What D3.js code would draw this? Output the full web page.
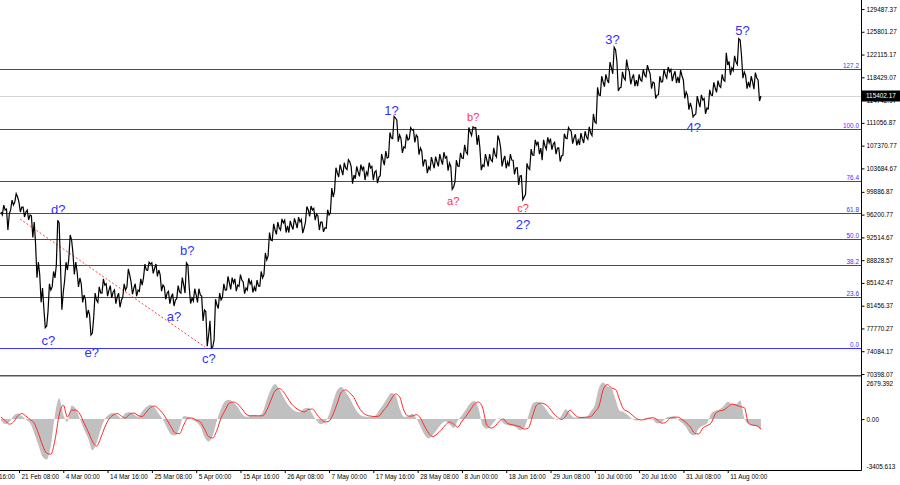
<!DOCTYPE html>
<html><head><meta charset="utf-8">
<script src="https://cdn.jsdelivr.net/npm/d3@7"></script>
<style>html,body{margin:0;padding:0;background:#fff;} svg{display:block;font-family:"Liberation Sans",Arial,sans-serif;}</style>
</head><body>
<svg id="c" width="900" height="485"></svg>
<script>
// ---------- DATA ----------
const startDate = "2025-02-17T00:00:00Z"; // first daily sample
const closes = [
96620,96950,96300,97750,99050,97430,96620,96140,95000,88530,
84320,78170,83990,85940,94840,83670,87230,92090,88530,85940,
83180,80760,77030,82370,83510,84800,83990,83670,82860,82370,
83990,86420,84320,83990,84800,87230,88200,87560,87230,84800,
83510,82860,82370,83670,84800,88040,82700,83180,83180,80760,
76710,74770,81560,82370,83990,85130,85130,84800,85610,84320,
84960,84480,84640,85940,88850,92090,93710,94030,94840,94360,
94360,94840,95000,94030,96950,96950,96300,95000,94030,96140,
99050,102940,103420,103750,104720,102610,103100,103420,103100,103750,
103100,102290,105040,105360,108600,111840,109090,107150,108280,109900,
109090,106980,105040,103910,104550,104720,105040,105360,104550,100670,
104070,105360,106340,109570,110220,109090,104230,105040,105040,105850,
108280,105040,104720,105040,103750,102450,99050,103750,105850,107470,
106980,107310,107790,107630,106980,105690,108600,109900,108600,108280,
108440,108760,109410,111190,115560,117670,117990,119940,122850,116700,
118320,119940,118320,117990,117990,118800,119610,117670,115560,117670,
118800,119290,118800,118480,118640,116050,114270,112330,114430,114750,
113460,115560,116700,117020,117990,120420,119940,120910,124470,119290,
117670,117670,118320,115402.17];
const highs = [
97420,97750,97100,98550,99600,98230,97420,96940,96000,91500,
86500,81000,85000,87000,95300,88000,88500,92900,90000,87000,
85000,82500,80000,83500,84500,85800,85000,84700,84000,83500,
85000,87400,85300,85000,85800,88200,88500,88400,88200,86500,
84500,83800,83400,84700,86000,88400,84500,84200,84200,83000,
80500,79000,82500,83500,85000,86200,86000,85800,86500,85300,
85900,85400,85600,87000,90000,93300,94700,95000,95500,95300,
95200,95600,95800,95400,97500,97600,97200,96000,95000,97000,
100500,103800,104300,104600,105100,104000,104000,104300,104000,104600,
104000,103300,106000,106500,109500,112100,111500,108500,109200,110300,
110000,108800,106500,105000,105500,105600,106000,106300,105600,104000,
105000,106200,107500,110300,110400,110300,107000,106000,106000,107000,
109000,107000,105700,106000,105000,103800,102500,104500,106800,108300,
108000,108300,108700,108500,107900,107000,109300,110300,109700,109200,
109400,109700,110400,112500,116800,118600,118900,120900,123300,121000,
119300,121300,119300,118900,118900,119700,120400,119000,117500,118600,
119700,120100,119700,119400,119600,118000,115500,113500,115400,115600,
115000,116400,117600,117900,118900,122400,121000,121900,124700,122000,
118700,118600,119200,118000];
const lows = [
95820,96150,93700,96950,98250,96630,95820,95340,92500,86000,
82000,77900,80500,84500,88000,80800,85500,89000,86500,84500,
82000,79500,76700,79500,82000,83500,83000,82700,81800,81200,
82800,84500,83300,83000,83800,86000,87200,86700,86200,83800,
82500,81800,81400,82600,83500,83500,81800,82200,82000,79000,
74900,74600,76000,81000,82800,84000,84100,83800,84600,83400,
84000,83600,83800,84600,86500,89500,92000,93000,93700,93300,
93300,93800,94000,93200,95000,95900,95300,93700,93400,94000,
96500,100000,102300,102600,103500,101200,102000,102400,101800,102600,
101800,101300,102500,104200,105500,108500,108000,106200,107000,108500,
107900,105900,104000,102900,103500,103700,104000,104300,103300,100300,
101500,104000,105300,106000,109000,107500,103400,104000,104000,104800,
105500,104000,103700,104000,102700,101000,98600,99500,103500,105800,
106000,105000,106800,106700,106000,104800,105800,108500,107700,107400,
107500,107800,108400,109000,111000,115500,116900,117500,119000,116200,
116800,118000,117300,117000,117000,117800,118500,116600,115000,115600,
117700,118300,117800,117500,117500,115000,113200,112000,112500,113600,
112500,113300,115500,116000,116800,117800,118800,119500,120500,118300,
116600,116800,116500,114600];
const macdSignal = [
130,-100,-340,-200,200,370,200,-30,-270,-940,
-1740,-2280,-2350,-1400,270,940,130,600,600,340,
-270,-840,-1480,-1810,-1270,-540,0,270,370,200,
70,340,400,240,170,470,770,870,670,370,
-70,-540,-940,-970,-400,70,70,-70,-200,-670,
-1170,-1270,-740,70,600,1070,1140,1000,700,340,
220,220,220,220,600,1270,1880,2040,1830,1410,
1000,740,570,470,640,670,340,0,-200,-140,
340,1070,1810,1950,1740,1440,870,470,270,200,
170,200,540,870,1340,1680,1480,600,200,200,
300,70,-470,-940,-1170,-1000,-740,-400,-200,-340,
-540,-140,200,600,1000,1140,740,-400,-600,-470,
-140,0,-300,-370,-440,-520,-670,-600,200,940,
1070,1000,770,400,130,-30,200,600,340,130,
100,130,160,470,870,1950,2310,2080,1980,1270,
640,500,270,40,-60,-30,50,90,-30,-270,
-240,40,130,130,-30,-240,-520,-940,-1000,-600,
-440,-270,340,540,600,800,1000,940,830,770,
-270,-400,-440,-670];
const macdHist = [
-100,-340,-200,200,370,200,-30,-270,-940,-1740,
-2500,-2700,-1800,300,1400,300,-200,900,700,0,
-700,-1300,-2100,-1600,-700,0,300,400,250,50,
400,450,300,150,500,800,950,750,350,-50,
-600,-1050,-1100,-600,200,150,-50,-200,-500,-1200,
-1500,-1100,-100,700,1200,1300,1100,800,350,150,
200,250,200,450,1300,2000,2350,2000,1500,1000,
700,500,450,700,750,300,-100,-350,-200,300,
1200,1950,2150,1800,1400,850,400,200,150,150,
200,550,950,1400,1750,1600,700,150,150,350,
50,-500,-1050,-1300,-1050,-700,-350,-150,-350,-600,
-100,250,650,1050,1200,700,-450,-650,-450,-100,
50,-300,-400,-450,-550,-750,-600,200,1000,1150,
1050,750,350,100,-50,250,650,350,100,100,
150,150,500,950,2100,2450,2200,2050,1300,550,
450,250,0,-100,-50,50,100,-50,-300,-250,
50,150,150,-50,-250,-550,-1000,-1100,-650,-450,
-300,350,550,650,850,1150,1000,1000,1250,50,
-350,-450,-500,-750];
const priceTicks = [129487.37,125801.27,122115.17,118429.07,114742.97,111056.87,107370.77,103684.67,
  99886.87,96200.77,92514.67,88828.57,85142.47,81456.37,77770.27,74084.17,70398.07];
const oscTicks = [2679.392, 0, -3405.613];
const oscTickLabels = ["2679.392","0.00","-3405.613"];
const timeTicks = ["2025-02-10T16:00:00Z","2025-02-21T08:00:00Z","2025-03-04T00:00:00Z","2025-03-14T16:00:00Z",
  "2025-03-25T08:00:00Z","2025-04-05T00:00:00Z","2025-04-15T16:00:00Z","2025-04-26T08:00:00Z","2025-05-07T00:00:00Z",
  "2025-05-17T16:00:00Z","2025-05-28T08:00:00Z","2025-06-08T00:00:00Z","2025-06-18T16:00:00Z","2025-06-29T08:00:00Z",
  "2025-07-10T00:00:00Z","2025-07-20T16:00:00Z","2025-07-31T08:00:00Z","2025-08-11T00:00:00Z"];
const fibLevels = [0, 23.6, 38.2, 50.0, 61.8, 76.4, 100.0, 127.2];
const fibLabels = ["0.0","23.6","38.2","50.0","61.8","76.4","100.0","127.2"];
const fib0Price = 74554, fib100Price = 110059;
const lastPrice = 115402.17;
const trendFrom = {date:"2025-02-21T14:00:00Z", price:95490};
const trendTo   = {date:"2025-04-07T03:00:00Z", price:74765};
// wave labels: day offset from startDate, price, text, colour group
const waveText  = ["d?","c?","e?","b?","a?","c?","1?","a?","b?","c?","2?","3?","4?","5?"];
const waveDay   = [13.8,11.39,21.83,44.85,41.65,50.07,94.05,108.9,113.7,125.7,125.7,147.25,166.8,178.55];
const wavePrice = [97058,75898,73842,90469,79670,72984,113022,98402,111953,97220,94678,124630,110269,125974];
const waveRed   = [0,0,0,0,0,0,0,1,1,1,0,0,0,0];

// ---------- LAYOUT ----------
const svg = d3.select("#c");
const plotR = 861, mainBottom = 375, oscTop = 379, oscBottom = 470;
const FS = 6.4;
const BLUE = "#3535ff";
const x = d3.scaleUtc().domain([new Date("2025-02-21T08:00:00Z"), new Date("2025-08-11T00:00:00Z")]).range([19, 727.7]);
const y = d3.scaleLinear().domain([70398.07, 129487.37]).range([374, 9]);
const yo = d3.scaleLinear().domain([-3405.613, 2679.392]).range([oscBottom, oscTop]);
const t0 = new Date(startDate);
const dateAt = d => new Date(t0.getTime() + d*86400000);
const series = closes.map((c,i)=>({d:dateAt(i), c, h:macdHist[i], s:macdSignal[i]}));

// intraday path: previous close -> (low/high) -> (high/low) -> close
const pricePts = [];
closes.forEach((c,i)=>{
  const prev = i ? closes[i-1] : c;
  const up = c >= prev;
  if (i) {
    pricePts.push({d:dateAt(i-0.68), p: up ? lows[i] : highs[i]});
    pricePts.push({d:dateAt(i-0.34), p: up ? highs[i] : lows[i]});
  }
  pricePts.push({d:dateAt(i), p:c});
});

const defs = svg.append("defs");
defs.append("clipPath").attr("id","cm").append("rect").attr("x",0).attr("y",0).attr("width",plotR).attr("height",mainBottom);
defs.append("clipPath").attr("id","co").append("rect").attr("x",0).attr("y",mainBottom+3).attr("width",plotR).attr("height",oscBottom-mainBottom-3);

const main = svg.append("g").attr("clip-path","url(#cm)");
// current price line
main.append("line").attr("x1",0).attr("x2",plotR).attr("y1",Math.round(y(lastPrice))+0.5).attr("y2",Math.round(y(lastPrice))+0.5)
  .attr("stroke","#d4d4d4").attr("stroke-width",1);
// fib lines
const fibPrice = l => fib0Price + (fib100Price-fib0Price)*l/100;
fibLevels.forEach((l,i)=>{
  const yy = Math.round(y(fibPrice(l)))+0.5;
  main.append("line").attr("x1",0).attr("x2",plotR).attr("y1",yy).attr("y2",yy)
    .attr("stroke",BLUE).attr("stroke-width",1).attr("shape-rendering","crispEdges");
  main.append("text").attr("x",plotR-2).attr("y",yy-1.5).attr("text-anchor","end")
    .attr("font-size",FS).attr("fill",BLUE).text(fibLabels[i]);
});
// trend dashed line
main.append("line").attr("x1",x(new Date(trendFrom.date))).attr("y1",y(trendFrom.price))
  .attr("x2",x(new Date(trendTo.date))).attr("y2",y(trendTo.price))
  .attr("stroke","#ff4040").attr("stroke-width",1).attr("stroke-dasharray","2,2");
// price
main.append("path").datum(pricePts).attr("fill","none").attr("stroke","#000").attr("stroke-width",1.2)
  .attr("stroke-linejoin","miter").attr("d", d3.line().x(d=>x(d.d)).y(d=>y(d.p)));
// wave labels
waveText.forEach((t,i)=>{
  main.append("text").attr("x",x(dateAt(waveDay[i]))).attr("y",y(wavePrice[i])).attr("dy","0.36em")
    .attr("text-anchor","middle").attr("font-size",waveRed[i]?11:13)
    .attr("fill",waveRed[i]?"#ff3535":"#3030ff").text(t);
});

// separator
svg.append("line").attr("x1",0).attr("x2",plotR).attr("y1",375.5).attr("y2",375.5).attr("stroke","#555");
svg.append("line").attr("x1",0).attr("x2",plotR).attr("y1",376.5).attr("y2",376.5).attr("stroke","#aaa");

// oscillator
const osc = svg.append("g").attr("clip-path","url(#co)");
osc.append("path").datum(series).attr("fill","#c0c0c0")
  .attr("d", d3.area().x(d=>x(d.d)).y0(yo(0)).y1(d=>yo(d.h)).curve(d3.curveMonotoneX));
osc.append("path").datum(series).attr("fill","none").attr("stroke","#ff2a2a").attr("stroke-width",1)
  .attr("d", d3.line().x(d=>x(d.d)).y(d=>yo(d.s)).curve(d3.curveMonotoneX));

// right axis (price)
const ra = svg.append("g").attr("transform",`translate(${plotR+0.5},0)`)
  .call(d3.axisRight(y).tickValues(priceTicks).tickSize(3).tickPadding(2).tickFormat(d3.format(".2f")));
ra.select(".domain").remove();
ra.selectAll("text").attr("font-size",FS).attr("fill","#000").attr("font-family","Liberation Sans, Arial, sans-serif");
// osc axis
const oa = svg.append("g").attr("transform",`translate(${plotR+0.5},0)`)
  .call(d3.axisRight(yo).tickValues(oscTicks).tickSize(3).tickPadding(2).tickFormat((d,i)=>oscTickLabels[i]));
oa.select(".domain").remove();
oa.selectAll("text").attr("font-size",FS).attr("fill","#000").attr("font-family","Liberation Sans, Arial, sans-serif")
  .attr("dy",(d,i)=> i===0 ? "1.0em" : (i===2 ? "-0.25em" : "0.32em"));
oa.selectAll(".tick").filter((d,i)=>i!==1).select("line").remove();
// axis lines
svg.append("line").attr("x1",plotR+0.5).attr("x2",plotR+0.5).attr("y1",0).attr("y2",oscBottom+0.5).attr("stroke","#000");
svg.append("line").attr("x1",0).attr("x2",plotR+0.5).attr("y1",oscBottom+0.5).attr("y2",oscBottom+0.5).attr("stroke","#000");
// bottom axis
const fmt = d3.utcFormat("%-d %b %H:%M");
const ba = svg.append("g").attr("transform",`translate(0,${oscBottom})`)
  .call(d3.axisBottom(x).tickValues(timeTicks.map(s=>new Date(s))).tickSize(3).tickFormat(fmt));
ba.select(".domain").remove();
ba.selectAll("text").attr("font-size",FS).attr("fill","#000").attr("text-anchor","start").attr("x",2).attr("y",4.5)
  .attr("font-family","Liberation Sans, Arial, sans-serif");

// last price box
const yl = y(lastPrice);
svg.append("rect").attr("x",plotR+1).attr("y",yl-5.5).attr("width",900-plotR-1).attr("height",11).attr("fill","#000");
svg.append("text").attr("x",plotR+5).attr("y",yl).attr("dy","0.35em").attr("font-size",FS).attr("fill","#fff").text(d3.format(".2f")(lastPrice));
</script></body></html>
